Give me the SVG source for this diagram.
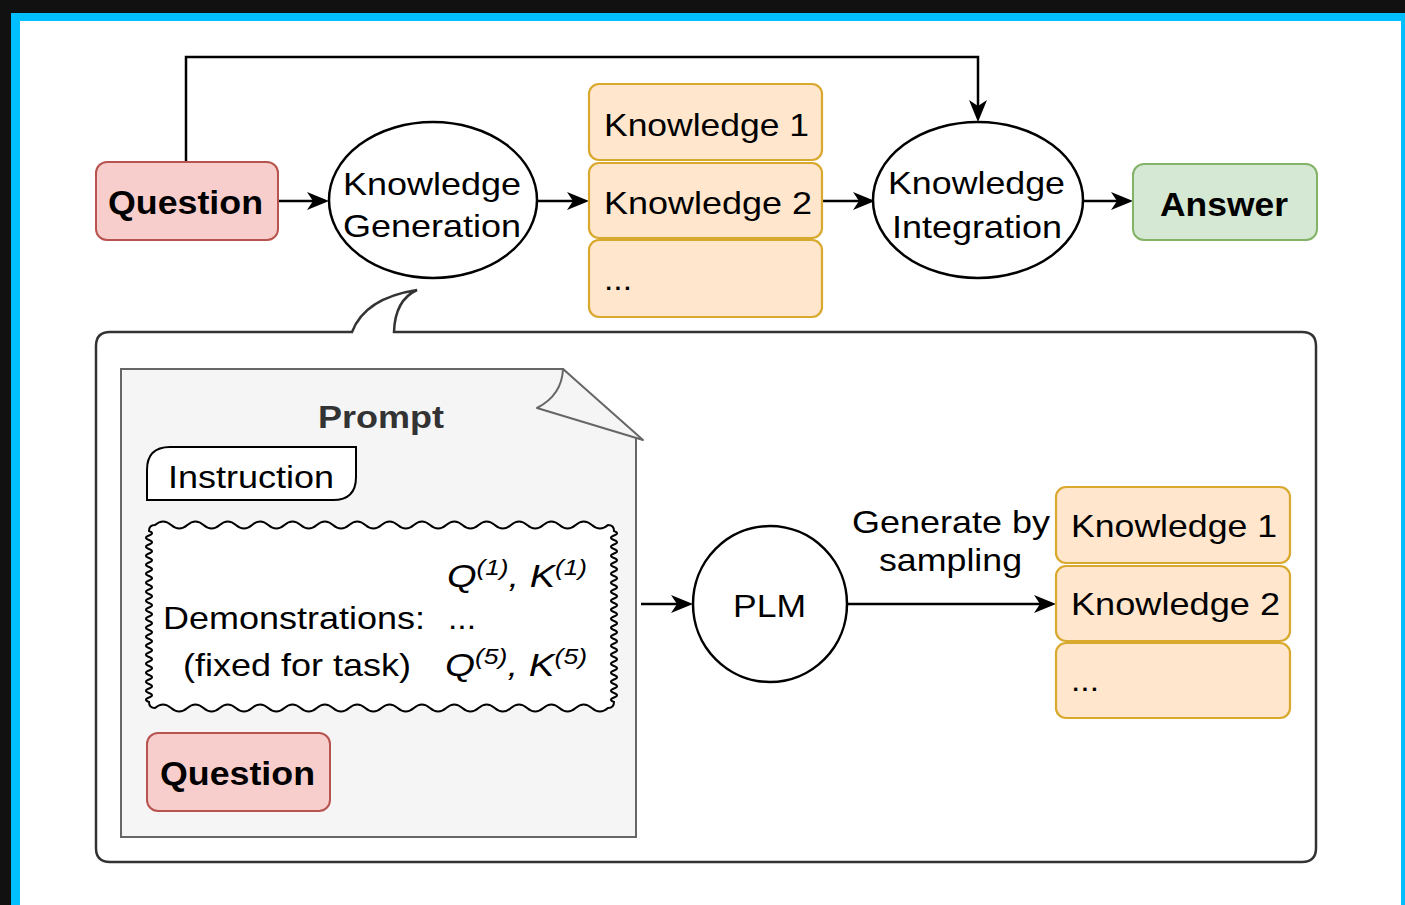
<svg xmlns="http://www.w3.org/2000/svg" width="1405" height="905" viewBox="0 0 1405 905">
<defs>
<style>
.t{font-family:"Liberation Sans",Arial,Helvetica,sans-serif;font-size:32px;fill:#000}
.b{font-weight:bold;font-size:33px}
.edge{fill:none;stroke:#000;stroke-width:2.5}
.red{fill:#f8cecc;stroke:#b85450;stroke-width:2}
.grn{fill:#d5e8d4;stroke:#82b366;stroke-width:2}
.org{fill:#ffe6cc;stroke:#d9a92e;stroke-width:2.2}
.ell{fill:#fff;stroke:#000;stroke-width:2.5}
.it{font-style:italic}
</style>
<marker id="ah" viewBox="0 0 22 20" markerWidth="22" markerHeight="20" refX="18" refY="10" orient="auto" markerUnits="userSpaceOnUse">
<path d="M0,1 L22,10 L0,19 L6,10 Z" fill="#000"/>
</marker>
</defs>
<rect x="0" y="0" width="1405" height="905" fill="#111"/>
<rect x="11" y="13" width="1394" height="892" fill="#00bfff"/>
<rect x="20" y="21" width="1381" height="884" fill="#fff"/>

<g id="callout">
<path d="M110 332 L352 332 Q365 298 417 290 Q395 300 394 332 L1302 332 Q1316 332 1316 346 L1316 848 Q1316 862 1302 862 L110 862 Q96 862 96 848 L96 346 Q96 332 110 332 Z" fill="#fff" stroke="#333" stroke-width="2.5"/>
</g>

<g id="connectors">
<line class="edge" x1="278" y1="201" x2="325" y2="201" marker-end="url(#ah)"/>
<line class="edge" x1="538" y1="201" x2="585" y2="201" marker-end="url(#ah)"/>
<line class="edge" x1="822" y1="201" x2="871" y2="201" marker-end="url(#ah)"/>
<line class="edge" x1="1083" y1="201" x2="1129" y2="201" marker-end="url(#ah)"/>
<path class="edge" d="M186 162 V57 H978 V118" marker-end="url(#ah)"/>
<line class="edge" x1="641" y1="604" x2="689" y2="604" marker-end="url(#ah)"/>
<line class="edge" x1="848" y1="604" x2="1052" y2="604" marker-end="url(#ah)"/>
</g>

<g id="question">
<rect class="red" x="96" y="162" width="182" height="78" rx="11"/>
<text class="t b" x="108" y="214" textLength="155" lengthAdjust="spacingAndGlyphs">Question</text>
</g>

<g id="knowledge-generation">
<ellipse class="ell" cx="433" cy="200" rx="104" ry="78"/>
<text class="t" x="343" y="195" textLength="178" lengthAdjust="spacingAndGlyphs">Knowledge</text>
<text class="t" x="343" y="237" textLength="178" lengthAdjust="spacingAndGlyphs">Generation</text>
</g>

<g id="knowledge-top">
<rect class="org" x="589" y="84" width="233" height="76" rx="10"/>
<rect class="org" x="589" y="163" width="233" height="75" rx="10"/>
<rect class="org" x="589" y="240" width="233" height="77" rx="10"/>
<text class="t" x="604" y="136" textLength="205" lengthAdjust="spacingAndGlyphs">Knowledge 1</text>
<text class="t" x="604" y="214" textLength="208" lengthAdjust="spacingAndGlyphs">Knowledge 2</text>
<text class="t" x="604" y="290" textLength="28" lengthAdjust="spacingAndGlyphs">...</text>
</g>

<g id="knowledge-integration">
<ellipse class="ell" cx="978" cy="200" rx="105" ry="78"/>
<text class="t" x="888" y="194" textLength="177" lengthAdjust="spacingAndGlyphs">Knowledge</text>
<text class="t" x="892" y="238" textLength="170" lengthAdjust="spacingAndGlyphs">Integration</text>
</g>

<g id="answer">
<rect class="grn" x="1133" y="164" width="184" height="76" rx="11"/>
<text class="t b" x="1160" y="216" textLength="128" lengthAdjust="spacingAndGlyphs">Answer</text>
</g>

<g id="prompt">
<path d="M121 369 L563 369 L636 438 L636 837 L121 837 Z" fill="#f5f5f5" stroke="#666" stroke-width="2"/>
<path d="M563 369 Q562 395 537 408 L643 440 Z" fill="#f5f5f5" stroke="#666" stroke-width="2" stroke-linejoin="round"/>
<text class="t b" x="318" y="428" style="fill:#333;font-size:32px" textLength="126" lengthAdjust="spacingAndGlyphs">Prompt</text>
</g>

<g id="instruction">
<path d="M147 500 L147 470 Q147 447 170 447 L356 447 L356 477 Q356 500 333 500 Z" fill="#fff" stroke="#000" stroke-width="2"/>
<text class="t" x="168" y="488" textLength="166" lengthAdjust="spacingAndGlyphs">Instruction</text>
</g>

<g id="demonstrations">
<path d="M155 525 q8.09 -7 16.18 0 t16.18 0 t16.18 0 t16.18 0 t16.18 0 t16.18 0 t16.18 0 t16.18 0 t16.18 0 t16.18 0 t16.18 0 t16.18 0 t16.18 0 t16.18 0 t16.18 0 t16.18 0 t16.18 0 t16.18 0 t16.18 0 t16.18 0 t16.18 0 t16.18 0 t16.18 0 t16.18 0 t16.18 0 t16.18 0 t16.18 0 t16.18 0 Q614 525 614 531 q6 2.25 0 4.5 t0 4.5 t0 4.5 t0 4.5 t0 4.5 t0 4.5 t0 4.5 t0 4.5 t0 4.5 t0 4.5 t0 4.5 t0 4.5 t0 4.5 t0 4.5 t0 4.5 t0 4.5 t0 4.5 t0 4.5 t0 4.5 t0 4.5 t0 4.5 t0 4.5 t0 4.5 t0 4.5 t0 4.5 t0 4.5 t0 4.5 t0 4.5 t0 4.5 t0 4.5 t0 4.5 t0 4.5 t0 4.5 t0 4.5 t0 4.5 t0 4.5 t0 4.5 t0 4.5 Q614 708 608 708 q-8.09 7 -16.18 0 t-16.18 0 t-16.18 0 t-16.18 0 t-16.18 0 t-16.18 0 t-16.18 0 t-16.18 0 t-16.18 0 t-16.18 0 t-16.18 0 t-16.18 0 t-16.18 0 t-16.18 0 t-16.18 0 t-16.18 0 t-16.18 0 t-16.18 0 t-16.18 0 t-16.18 0 t-16.18 0 t-16.18 0 t-16.18 0 t-16.18 0 t-16.18 0 t-16.18 0 t-16.18 0 t-16.18 0 Q149 708 149 702 q-6 -2.25 0 -4.5 t0 -4.5 t0 -4.5 t0 -4.5 t0 -4.5 t0 -4.5 t0 -4.5 t0 -4.5 t0 -4.5 t0 -4.5 t0 -4.5 t0 -4.5 t0 -4.5 t0 -4.5 t0 -4.5 t0 -4.5 t0 -4.5 t0 -4.5 t0 -4.5 t0 -4.5 t0 -4.5 t0 -4.5 t0 -4.5 t0 -4.5 t0 -4.5 t0 -4.5 t0 -4.5 t0 -4.5 t0 -4.5 t0 -4.5 t0 -4.5 t0 -4.5 t0 -4.5 t0 -4.5 t0 -4.5 t0 -4.5 t0 -4.5 t0 -4.5 Q149 525 155 525 Z" fill="#fff" stroke="#000" stroke-width="2"/>
<text class="t it" x="447" y="587" textLength="140" lengthAdjust="spacingAndGlyphs">Q<tspan dy="-12" font-size="22">(1)</tspan><tspan dy="12">, K</tspan><tspan dy="-12" font-size="22">(1)</tspan></text>
<text class="t" x="163" y="629" textLength="262" lengthAdjust="spacingAndGlyphs">Demonstrations:</text>
<text class="t" x="448" y="629" textLength="28" lengthAdjust="spacingAndGlyphs">...</text>
<text class="t" x="183" y="676" textLength="228" lengthAdjust="spacingAndGlyphs">(fixed for task)</text>
<text class="t it" x="445" y="676" textLength="142" lengthAdjust="spacingAndGlyphs">Q<tspan dy="-12" font-size="22">(5)</tspan><tspan dy="12">, K</tspan><tspan dy="-12" font-size="22">(5)</tspan></text>
</g>

<g id="question-prompt">
<rect class="red" x="147" y="733" width="183" height="78" rx="11"/>
<text class="t b" x="160" y="785" textLength="155" lengthAdjust="spacingAndGlyphs">Question</text>
</g>

<g id="plm">
<ellipse class="ell" cx="770" cy="604" rx="77" ry="78"/>
<text class="t" x="733" y="617" textLength="73" lengthAdjust="spacingAndGlyphs">PLM</text>
</g>

<g id="edge-label">
<text class="t" x="852" y="533" textLength="198" lengthAdjust="spacingAndGlyphs">Generate by</text>
<text class="t" x="879" y="571" textLength="143" lengthAdjust="spacingAndGlyphs">sampling</text>
</g>

<g id="knowledge-bottom">
<rect class="org" x="1056" y="487" width="234" height="76" rx="10"/>
<rect class="org" x="1056" y="566" width="234" height="75" rx="10"/>
<rect class="org" x="1056" y="643" width="234" height="75" rx="10"/>
<text class="t" x="1071" y="537" textLength="206" lengthAdjust="spacingAndGlyphs">Knowledge 1</text>
<text class="t" x="1071" y="615" textLength="209" lengthAdjust="spacingAndGlyphs">Knowledge 2</text>
<text class="t" x="1071" y="691" textLength="28" lengthAdjust="spacingAndGlyphs">...</text>
</g>
</svg>
